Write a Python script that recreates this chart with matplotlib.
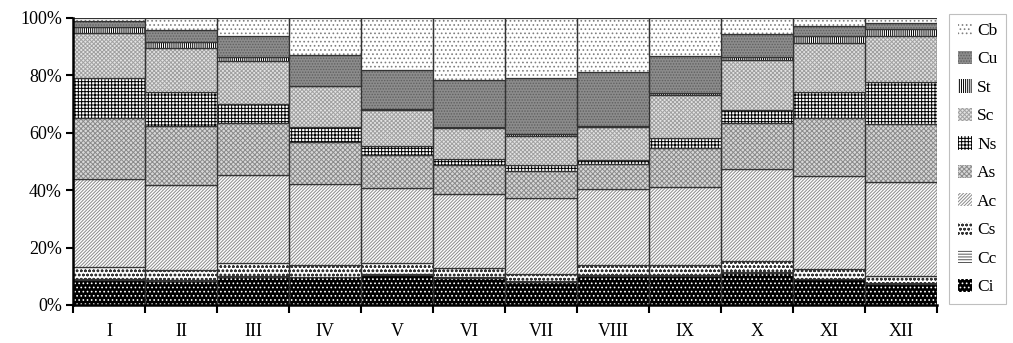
import numpy as np
import matplotlib
matplotlib.use('Agg')
import matplotlib.pyplot as plt
from matplotlib.ticker import PercentFormatter

plt.rcParams['font.family'] = ['Liberation Serif', 'DejaVu Serif']
plt.rcParams['hatch.linewidth'] = 0.7

months = ['I', 'II', 'III', 'IV', 'V', 'VI', 'VII', 'VIII', 'IX', 'X', 'XI', 'XII']

# share of each cloud type per month (%)
Ci = [8.7, 8.5, 9.9, 9.6, 10.3, 9.5, 8.1, 10.2, 10.2, 11.0, 8.9, 7.3]
Cc = [0.3, 0.3, 0.3, 0.3, 0.3, 0.3, 0.3, 0.3, 0.3, 0.3, 0.3, 0.3]
Cs = [4.1, 3.2, 4.4, 3.9, 3.9, 3.0, 2.4, 3.3, 3.3, 3.9, 3.2, 2.6]
Ac = [30.7, 29.7, 30.7, 28.4, 26.1, 25.8, 26.4, 26.5, 27.4, 32.1, 32.5, 32.5]
As = [21.2, 20.6, 18.0, 14.7, 11.7, 10.1, 9.6, 8.8, 13.4, 16.0, 20.1, 20.4]
Ns = [13.9, 12.0, 6.7, 5.2, 2.9, 2.3, 2.0, 1.3, 3.5, 4.6, 9.1, 14.7]
Sc = [15.8, 15.1, 15.1, 14.0, 12.7, 10.8, 10.2, 11.5, 15.1, 17.5, 17.1, 16.0]
St = [2.0, 2.2, 1.2, 0.2, 0.4, 0.3, 0.6, 0.4, 0.6, 0.9, 2.3, 2.4]
Cu = [2.1, 4.2, 7.4, 10.9, 13.6, 16.3, 19.4, 18.9, 13.0, 8.0, 3.7, 1.9]
Cb = [1.2, 4.2, 6.3, 12.8, 18.1, 21.6, 21.0, 18.8, 13.2, 5.7, 2.8, 1.9]

names = ['Ci', 'Cc', 'Cs', 'Ac', 'As', 'Ns', 'Sc', 'St', 'Cu', 'Cb']
series = [Ci, Cc, Cs, Ac, As, Ns, Sc, St, Cu, Cb]
# (face, hatch, hatch colour)
styles = [
    ('#000000', '....', 'white'),
    ('white', '------', '#555555'),
    ('white', 'oooo', '#333333'),
    ('white', '//////////', '#8a8a8a'),
    ('#d8d8d8', 'xxxxxxx', '#8a8a8a'),
    ('white', '+++++', 'black'),
    ('#e4e4e4', 'xxxxxxxx', '#a0a0a0'),
    ('white', '||||||||', 'black'),
    ('#8c8c8c', '......', '#606060'),
    ('white', '....', '#808080'),
]

fig = plt.figure(figsize=(10.13, 3.43), dpi=100)
ax = fig.add_axes([0.072, 0.111, 0.853, 0.837])

x = np.arange(len(months))
bottom = np.zeros(len(months))
handles = []
for name, vals, (fc, h, hc) in zip(names, series, styles):
    vals = np.array(vals)
    b = ax.bar(x, vals, width=1.0, bottom=bottom, color=fc, hatch=h,
               edgecolor=hc, linewidth=0, label=name)
    ax.bar(x, vals, width=1.0, bottom=bottom, fill=False,
           edgecolor='#333333', linewidth=0.9)
    handles.append(b)
    bottom += vals

ax.set_xlim(-0.5, len(months) - 0.5)
ax.set_ylim(0, 100)
ax.yaxis.set_major_formatter(PercentFormatter(decimals=0))
ax.set_yticks(np.arange(0, 101, 20))

ax.set_xticks(np.arange(-0.5, len(months), 1.0))
ax.set_xticklabels([])
ax.set_xticks(x, minor=True)
ax.set_xticklabels(months, minor=True)
ax.tick_params(axis='x', which='major', direction='out', length=6, width=1.5)
ax.tick_params(axis='x', which='minor', length=0, pad=13, labelsize=13)
ax.tick_params(axis='y', direction='out', length=5, width=1.5, labelsize=13, pad=3)

for s in ['top', 'right']:
    ax.spines[s].set_visible(False)
for s in ['left', 'bottom']:
    ax.spines[s].set_linewidth(1.8)

leg = fig.legend(handles[::-1], names[::-1], loc='center left',
                 bbox_to_anchor=(0.937, 0.537), frameon=True, fancybox=False,
                 edgecolor='#b0b0b0', fontsize=12.5, handlelength=0.8,
                 handleheight=0.8, handletextpad=0.3, labelspacing=0.68,
                 borderpad=0.5, borderaxespad=0)
leg.get_frame().set_linewidth(0.8)

fig.savefig('out.png', dpi=100)
